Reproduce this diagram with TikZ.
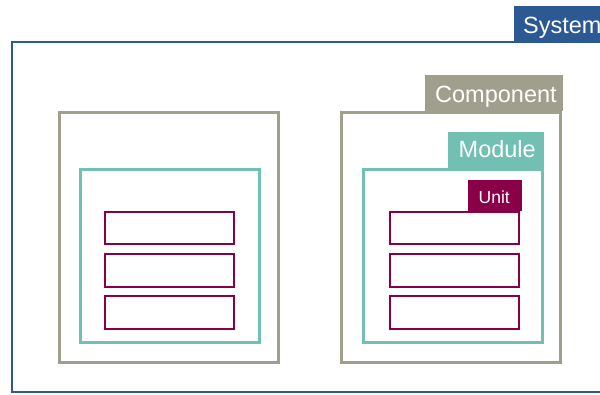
\documentclass[tikz,border=0pt]{standalone}
\usepackage{fontspec}
\setmainfont{Liberation Sans}
\definecolor{sysblue}{RGB}{44,88,148}
\definecolor{compgray}{RGB}{160,159,142}
\definecolor{modteal}{RGB}{114,191,180}
\definecolor{unitred}{RGB}{138,0,72}
\begin{document}
\begin{tikzpicture}[x=1pt,y=-1pt,
  sysbox/.style={draw=sysblue,line width=2pt},
  compbox/.style={draw=compgray,line width=3pt},
  modbox/.style={draw=modteal,line width=3pt},
  unitbox/.style={draw=unitred,line width=2pt},
  tag/.style={inner sep=0pt,anchor=base west,text=white,font=\fontsize{23.5}{24}\selectfont},
  smalltag/.style={inner sep=0pt,anchor=base west,text=white,font=\fontsize{17.5}{18}\selectfont}]
\useasboundingbox (0,0) rectangle (600,394);
\begin{scope}
\clip (0,0) rectangle (600,394);
% System
\draw[sysbox] (12,42) rectangle (640,392);
\fill[sysblue] (514,6) rectangle (640,42);
\node[tag] (systag) at (523,33) {System};
% Component A
\draw[compbox] (59,112) rectangle (278.5,362.5);
\draw[modbox] (80.5,169.5) rectangle (259.5,342.5);
\draw[unitbox] (104.5,211.5) rectangle (233.5,244);
\draw[unitbox] (104.5,253.5) rectangle (233.5,286.5);
\draw[unitbox] (104.5,296) rectangle (233.5,329);
% Component B
\draw[compbox] (341.5,112) rectangle (560.5,362.5);
\draw[modbox] (363.5,169.5) rectangle (542,342.5);
\draw[unitbox] (389.5,211.5) rectangle (519,244);
\draw[unitbox] (389.5,253.5) rectangle (519,286.5);
\draw[unitbox] (389.5,296) rectangle (519,329);
\fill[compgray] (425,75) rectangle (563,110.5);
\node[tag] (comptag) at (435,102) {Component};
\fill[modteal] (448,132) rectangle (544,168);
\node[tag] (modtag) at (458.5,157) {Module};
\fill[unitred] (468,180) rectangle (521.5,210.5);
\node[smalltag] (unittag) at (478.5,203.3) {Unit};
\end{scope}
\end{tikzpicture}
\end{document}
